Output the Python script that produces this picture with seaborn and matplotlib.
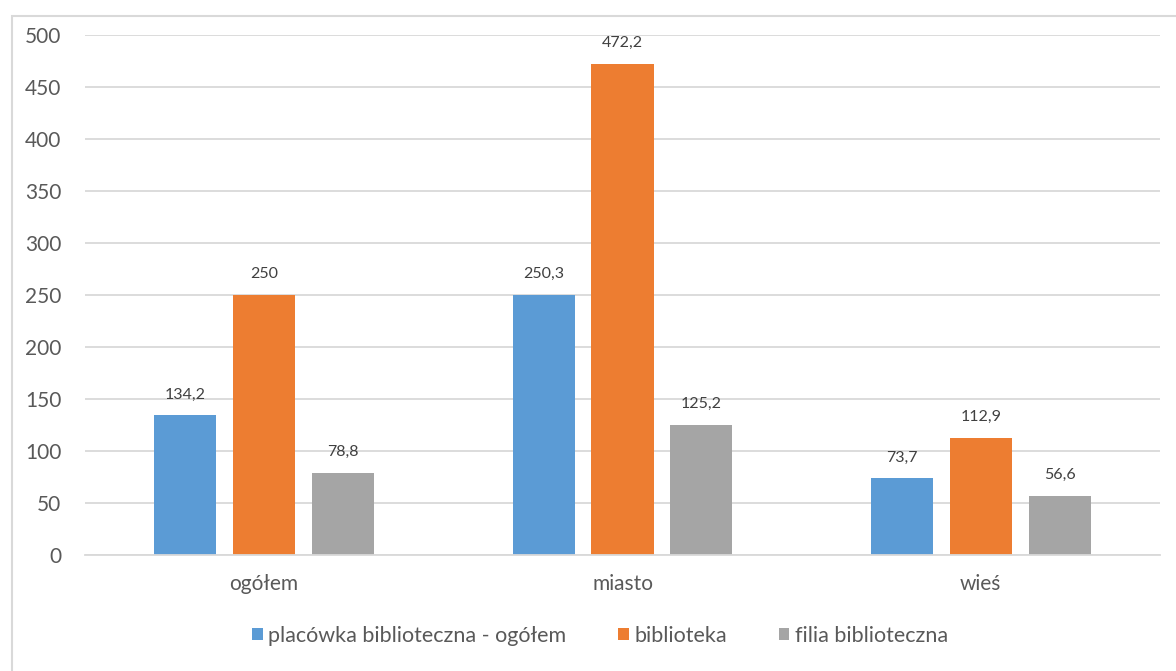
import matplotlib
matplotlib.use("Agg")
import matplotlib.pyplot as plt
import seaborn as sns
import pandas as pd
from matplotlib.patches import Rectangle

categories = ["ogółem", "miasto", "wieś"]
series = ["placówka biblioteczna - ogółem", "biblioteka", "filia biblioteczna"]
values_placowka = [134.2, 250.3, 73.7]
values_biblioteka = [250.0, 472.2, 112.9]
values_filia = [78.8, 125.2, 56.6]
colors = ["#5B9BD5", "#ED7D31", "#A5A5A5"]
yticks = [0, 50, 100, 150, 200, 250, 300, 350, 400, 450, 500]

rows = []
for s, vals in zip(series, [values_placowka, values_biblioteka, values_filia]):
    for c, v in zip(categories, vals):
        rows.append({"kat": c, "seria": s, "wartosc": v})
df = pd.DataFrame(rows)

sns.set_theme(style="white")
plt.rcParams['font.family'] = ['Lato', 'DejaVu Sans']
text_col = "#595959"

W, H = 1176, 671
fig = plt.figure(figsize=(W / 100, H / 100), dpi=100)
ax = fig.add_axes([85 / W, 1 - 555 / H, (1160 - 85) / W, (555 - 35) / H])

sns.barplot(data=df, x="kat", y="wartosc", hue="seria", order=categories,
            hue_order=series, palette=colors, width=0.66, gap=0.21,
            saturation=1, ax=ax, legend=True, edgecolor="none")

ax.set_ylim(0, 500)
ax.set_xlim(-0.5, 2.5)
ax.set_yticks(yticks)
ax.set_yticklabels([str(t) for t in yticks])
ax.yaxis.grid(True, color="#D9D9D9", linewidth=1.3)
ax.set_axisbelow(True)
for sp in ["top", "right", "left"]:
    ax.spines[sp].set_visible(False)
ax.spines["bottom"].set_color("#D9D9D9")
ax.spines["bottom"].set_linewidth(1.3)
ax.set_xlabel("")
ax.set_ylabel("")
ax.tick_params(axis="y", length=0, pad=17, labelsize=15, labelcolor=text_col)
ax.tick_params(axis="x", length=0, pad=14, labelsize=15, labelcolor=text_col)

for cont, vals in zip(ax.containers, [values_placowka, values_biblioteka, values_filia]):
    labels = [f"{v:g}".replace(".", ",") for v in vals]
    ax.bar_label(cont, labels=labels, padding=10, fontsize=11.5, color="#404040")

leg = ax.legend(loc="center", bbox_to_anchor=(600 / W, 1 - 636 / H),
                bbox_transform=fig.transFigure, ncol=3, frameon=False,
                fontsize=15.5, handlelength=0.5, handleheight=0.5,
                handletextpad=0.25, columnspacing=2.4)
for t in leg.get_texts():
    t.set_color(text_col)

fig.patches.append(Rectangle((12 / W, -0.05), 1.2, 1 - 16 / H + 0.05,
                             transform=fig.transFigure, fill=False,
                             edgecolor="#D9D9D9", linewidth=1.5, zorder=-1))

fig.savefig("out.png", dpi=100)
